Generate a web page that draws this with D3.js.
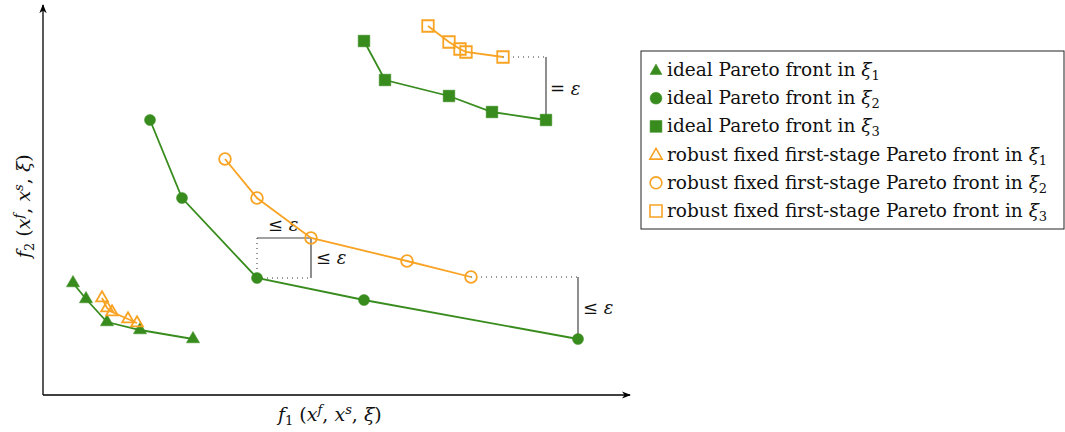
<!DOCTYPE html>
<html>
<head>
<meta charset="utf-8">
<script src="https://cdn.jsdelivr.net/npm/d3@7"></script>
<style>
  body { margin: 0; background: #fff; }
  svg { display: block; }
  text { font-family: "DejaVu Serif", "Liberation Serif", serif; fill: #111; }
</style>
</head>
<body>
<div id="chart"></div>
<script>
// data in abstract objective units (f1 right, f2 up)
const idealXi1 = [[30, 112], [43, 96], [64, 73], [97, 65], [150, 56]];
const robustXi1 = [[59, 97], [64, 87], [69, 83], [85, 76], [94, 72]];
const idealXi2 = [[107, 275], [139, 197], [214, 117], [321, 95], [535, 56]];
const robustXi2 = [[182, 236], [214, 197], [268, 157], [364, 134], [428, 118]];
const idealXi3 = [[321, 354], [342, 315], [406, 299], [449, 283], [503, 275]];
const robustXi3 = [[385, 369], [406, 353], [417, 346], [423, 343], [460, 338]];

const legendLabels = [
  ["ideal Pareto front in ", "1"],
  ["ideal Pareto front in ", "2"],
  ["ideal Pareto front in ", "3"],
  ["robust fixed first-stage Pareto front in ", "1"],
  ["robust fixed first-stage Pareto front in ", "2"],
  ["robust fixed first-stage Pareto front in ", "3"]
];

const green = "#388c1e";
const orange = "#f8a323";
const W = 1065, H = 432;

const svg = d3.select("#chart").append("svg")
  .attr("width", W).attr("height", H);

const x = d3.scaleLinear().domain([0, 587]).range([43, 630]);
const y = d3.scaleLinear().domain([0, 390]).range([395, 5]);

// axes with arrows
const defs = svg.append("defs");
defs.append("marker").attr("id", "arrow")
  .attr("viewBox", "0 0 10 10").attr("refX", 9).attr("refY", 5)
  .attr("markerWidth", 7).attr("markerHeight", 7).attr("orient", "auto")
  .append("path").attr("d", "M0,1 L10,5 L0,9 L3,5 Z").attr("fill", "#000");

svg.append("line").attr("x1", x(0)).attr("y1", y(0)).attr("x2", x(587)).attr("y2", y(0))
  .attr("stroke", "#000").attr("stroke-width", 1.3).attr("marker-end", "url(#arrow)");
svg.append("line").attr("x1", x(0)).attr("y1", y(0)).attr("x2", x(0)).attr("y2", y(390))
  .attr("stroke", "#000").attr("stroke-width", 1.3).attr("marker-end", "url(#arrow)");

// axis labels
function objLabel(g, sub) {
  const t = g.append("text").attr("font-size", 19);
  t.append("tspan").attr("font-style", "italic").text("f");
  t.append("tspan").attr("font-size", 13).attr("dy", 4).text(sub);
  t.append("tspan").attr("dy", -4).text(" (");
  t.append("tspan").attr("font-style", "italic").text("x");
  t.append("tspan").attr("font-style", "italic").attr("font-size", 13).attr("dy", -7).text("f");
  t.append("tspan").attr("dy", 7).text(", ");
  t.append("tspan").attr("font-style", "italic").text("x");
  t.append("tspan").attr("font-style", "italic").attr("font-size", 13).attr("dy", -7).text("s");
  t.append("tspan").attr("dy", 7).text(", ");
  t.append("tspan").attr("font-style", "italic").text("ξ");
  t.append("tspan").text(")");
  return t;
}
objLabel(svg.append("g").attr("transform", "translate(278,421)"), "1");
objLabel(svg.append("g").attr("transform", "translate(30,258) rotate(-90)"), "2");

// epsilon annotations
const ann = svg.append("g");
function seg(p, q, dotted) {
  ann.append("line")
    .attr("x1", x(p[0])).attr("y1", y(p[1])).attr("x2", x(q[0])).attr("y2", y(q[1]))
    .attr("stroke", dotted ? "#333" : "#444")
    .attr("stroke-width", dotted ? 1 : 1.2)
    .attr("stroke-dasharray", dotted ? "1,4" : null);
}
const sq = idealXi3[4], rq = robustXi3[4];
seg(rq, [sq[0], rq[1]], true);
seg([sq[0], rq[1]], sq, false);
const c2 = idealXi2[2], rc = robustXi2[2];
seg(c2, [rc[0], c2[1]], true);
seg([rc[0], c2[1]], rc, false);
seg([c2[0], rc[1]], rc, false);
seg([c2[0], rc[1]], c2, true);
const ce = idealXi2[4], re = robustXi2[4];
seg(re, [ce[0], re[1]], true);
seg([ce[0], re[1]], ce, false);

function epsLabel(px, py, sym) {
  const t = ann.append("text").attr("x", px).attr("y", py).attr("font-size", 18);
  t.append("tspan").text(sym + " ");
  t.append("tspan").attr("font-style", "italic").text("ε");
}
epsLabel(x(sq[0]) + 4, y((sq[1] + rq[1]) / 2) + 6, "=");
epsLabel(x(c2[0]) + 11, y(rc[1]) - 7, "≤");
epsLabel(x(rc[0]) + 5, y((c2[1] + rc[1]) / 2) + 6, "≤");
epsLabel(x(ce[0]) + 5, y((ce[1] + re[1]) / 2) + 6, "≤");

// series
const line = d3.line().x(d => x(d[0])).y(d => y(d[1]));
const series = [
  { data: idealXi1, color: green, shape: d3.symbolTriangle, size: 75, filled: true, leg: 62 },
  { data: idealXi2, color: green, shape: d3.symbolCircle, size: 95, filled: true, leg: 110 },
  { data: idealXi3, color: green, shape: d3.symbolSquare, size: 135, filled: true, leg: 140 },
  { data: robustXi1, color: orange, shape: d3.symbolTriangle, size: 60, filled: false, leg: 66 },
  { data: robustXi2, color: orange, shape: d3.symbolCircle, size: 108, filled: false, leg: 110 },
  { data: robustXi3, color: orange, shape: d3.symbolSquare, size: 132, filled: false, leg: 145 }
];

series.forEach(s => {
  const g = svg.append("g");
  g.append("path").datum(s.data).attr("d", line)
    .attr("fill", "none").attr("stroke", s.color).attr("stroke-width", 1.8);
  g.selectAll("path.pt").data(s.data).join("path").attr("class", "pt")
    .attr("transform", d => `translate(${x(d[0])},${y(d[1])})`)
    .attr("d", d3.symbol().type(s.shape).size(s.size))
    .attr("fill", s.filled ? s.color : "none")
    .attr("stroke", s.color)
    .attr("stroke-width", s.filled ? 0.5 : 1.8);
});

// legend
const legend = svg.append("g").attr("transform", "translate(641,51)");
legend.append("rect").attr("width", 423).attr("height", 178)
  .attr("fill", "#fff").attr("stroke", "#222").attr("stroke-width", 1);
const rows = legend.selectAll("g.row").data(series).join("g").attr("class", "row")
  .attr("transform", (d, i) => `translate(0,${19 + i * 28.2})`);
rows.append("path")
  .attr("transform", d => `translate(15,${d.shape === d3.symbolTriangle ? 1 : 0})`)
  .attr("d", d => d3.symbol().type(d.shape).size(d.leg)())
  .attr("fill", d => d.filled ? d.color : "none")
  .attr("stroke", d => d.color)
  .attr("stroke-width", d => d.filled ? 0.5 : 1.6);
rows.each(function (d, i) {
  const t = d3.select(this).append("text").attr("x", 26).attr("y", 6).attr("font-size", 18.5);
  t.append("tspan").text(legendLabels[i][0]);
  t.append("tspan").attr("font-style", "italic").text("ξ");
  t.append("tspan").attr("font-size", 13).attr("dy", 4).text(legendLabels[i][1]);
});
</script>
</body>
</html>
